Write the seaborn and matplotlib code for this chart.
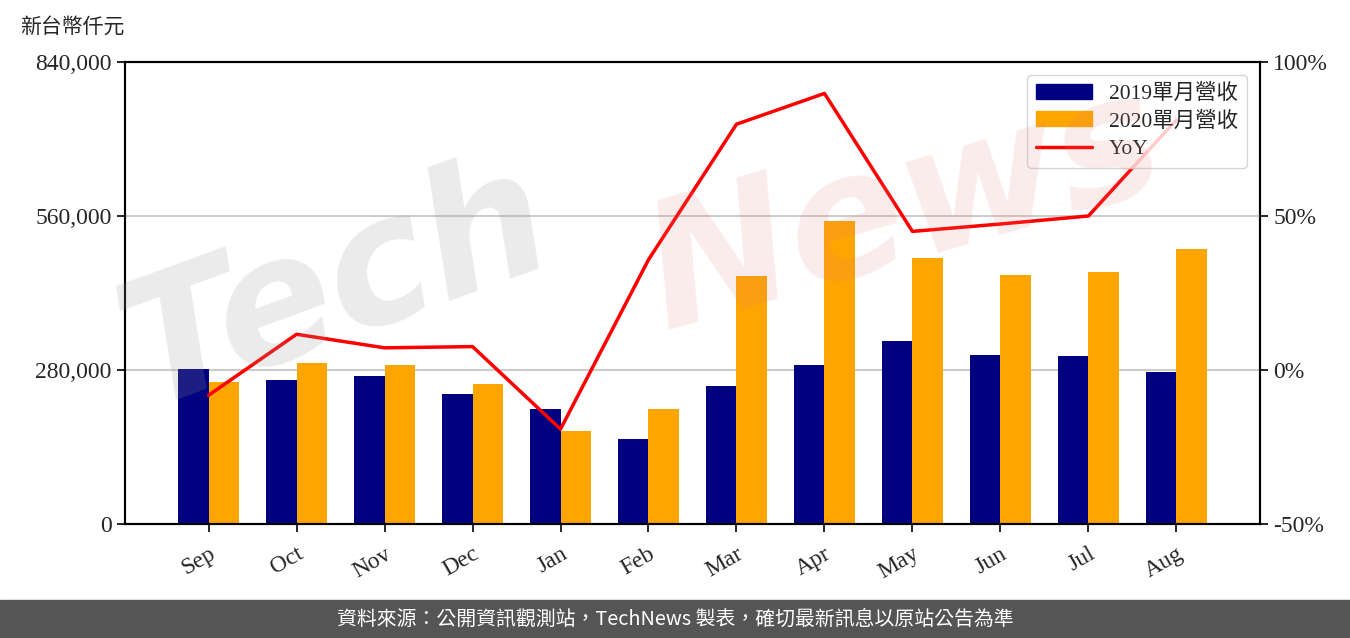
import matplotlib.pyplot as plt
import numpy as np
import pandas as pd
import seaborn as sns
from matplotlib.patches import Patch, Rectangle
from matplotlib.lines import Line2D
from matplotlib.ticker import FuncFormatter

months = ["Sep", "Oct", "Nov", "Dec", "Jan", "Feb", "Mar", "Apr", "May", "Jun", "Jul", "Aug"]
rev_2019 = [281800, 261800, 269100, 236400, 209100, 154500, 250900, 289100, 332700, 307300, 305500, 276400]
rev_2020 = [258200, 292700, 289100, 254500, 169100, 209100, 450900, 550900, 483600, 452700, 458200, 500000]
yoy = [-8.2, 11.6, 7.2, 7.6, -19.2, 35.8, 79.8, 89.8, 45.0, 47.4, 50.0, 81.2]
series_names = ["2019單月營收", "2020單月營收"]
colors = {"2019單月營收": "#000080", "2020單月營收": "#FFA500"}

df = pd.DataFrame({
    "month": months * 2,
    "revenue": rev_2019 + rev_2020,
    "series": [series_names[0]] * 12 + [series_names[1]] * 12,
})

sns.set_theme(style="ticks")
plt.rcParams["font.family"] = ["Liberation Serif", "Noto Sans CJK TC"]

fig = plt.figure(figsize=(13.5, 6.38), dpi=100)
ax = fig.add_axes([0.0926, 0.1787, 0.8407, 0.7241])

sns.barplot(data=df, x="month", y="revenue", hue="series", order=months,
            hue_order=series_names, palette=colors, width=0.7, saturation=1,
            linewidth=0, ax=ax, legend=False)
ax.set_xlim(-0.95, 11.95)
ax.set_ylim(0, 840000)
ax.set_yticks([0, 280000, 560000, 840000])
ax.yaxis.set_major_formatter(FuncFormatter(lambda v, p: f"{int(v):,}"))
ax.yaxis.grid(True, color="#cccccc", lw=1.5)
ax.set_axisbelow(True)
ax.set_xlabel("")
ax.set_ylabel("")
ax.tick_params(axis="y", labelsize=17, length=6, width=1.2, color="black")
ax.tick_params(axis="x", labelsize=17, length=6, width=1.2, color="black", pad=8)
plt.setp(ax.get_xticklabels(), rotation=30, ha="right", rotation_mode="anchor")
for s in ax.spines.values():
    s.set_color("black")
    s.set_linewidth(1.5)

ax2 = ax.twinx()
sns.lineplot(x=np.arange(len(months)), y=yoy, color="#FF0000", lw=2.5, ax=ax2)
ax2.set_ylim(-50, 100)
ax2.set_yticks([-50, 0, 50, 100])
ax2.yaxis.set_major_formatter(FuncFormatter(lambda v, p: f"{int(v)}%"))
ax2.tick_params(axis="y", labelsize=17, length=6, width=1.2, color="black")
for s in ax2.spines.values():
    s.set_color("black")
    s.set_linewidth(1.5)

handles = [Patch(color=colors[series_names[0]]), Patch(color=colors[series_names[1]]),
           Line2D([], [], color="#FF0000", lw=2.5)]
leg = ax2.legend(handles, series_names + ["YoY"], loc="upper right", fontsize=15.5,
                 frameon=True, handlelength=2.6, borderaxespad=0.6, labelspacing=0.35)
leg.get_frame().set_edgecolor("#cccccc")

# watermark
fig.text(0.25, 0.55, "Tech", fontsize=125, color="#999999", alpha=0.2, rotation=20,
         ha="center", va="center", family="DejaVu Sans", style="italic", weight="bold")
fig.text(0.67, 0.67, "News", fontsize=125, color="#e88080", alpha=0.15, rotation=16,
         ha="center", va="center", family="DejaVu Sans", style="italic", weight="bold")

fig.text(0.015, 0.957, "新台幣仟元", fontsize=15, ha="left", va="center")

fig.patches.append(Rectangle((0, 0), 1, 38 / 638, transform=fig.transFigure,
                             color="#555555", zorder=0))
fig.text(0.5, 19 / 638, "資料來源：公開資訊觀測站，TechNews 製表，確切最新訊息以原站公告為準",
         fontsize=14.3, color="white", ha="center", va="center",
         family=["Noto Sans CJK TC", "DejaVu Sans"])

fig.savefig("out.png", dpi=100)
